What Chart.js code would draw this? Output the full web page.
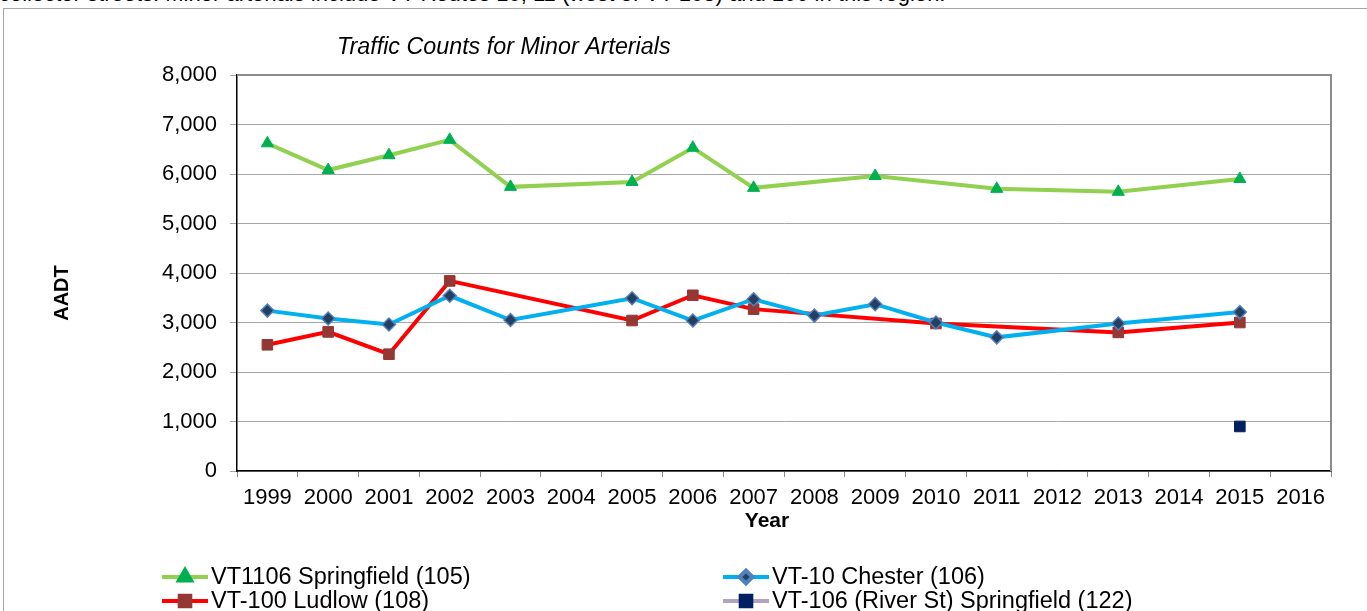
<!DOCTYPE html>
<html><head><meta charset="utf-8">
<script src="https://cdn.jsdelivr.net/npm/chart.js@4"></script>
<style>
html,body{margin:0;padding:0;background:#fff;overflow:hidden;width:1367px;height:611px;}
#doc{position:absolute;left:-1px;top:-18px;font:22px "Liberation Sans",Arial,sans-serif;line-height:24px;white-space:nowrap;color:#000;}
#frame{position:absolute;left:3px;top:8px;right:-10px;bottom:-10px;border-left:1px solid #a6a6a6;border-top:1px solid #a6a6a6;background:#fff;}
canvas{position:absolute;left:0;top:0;}
</style></head><body>
<div id="doc">collector streets. Minor arterials include VT Routes 10, 11 (west of VT 103) and 106 in this region.</div>
<div id="frame"></div>
<canvas id="c" width="1367" height="611"></canvas>
<script>
const years = ['1999','2000','2001','2002','2003','2004','2005','2006','2007','2008','2009','2010','2011','2012','2013','2014','2015','2016'];
const springfield105 = [6620,6080,6380,6690,5740,null,5840,6530,5720,null,5960,null,5700,null,5640,null,5900,null];
const chester106     = [3240,3080,2960,3540,3050,null,3490,3040,3470,3140,3370,3000,2700,null,2980,null,3210,null];
const ludlow108      = [2550,2810,2360,3840,null,null,3040,3550,3270,null,null,2980,null,null,2800,null,3000,null];
const riverSt122     = [null,null,null,null,null,null,null,null,null,null,null,null,null,null,null,null,900,null];
const yTicks = [0,1000,2000,3000,4000,5000,6000,7000,8000];
const seriesNames = ['VT1106 Springfield (105)','VT-10 Chester (106)','VT-100 Ludlow (108)','VT-106 (River St) Springfield (122)'];

const FONT = '"Liberation Sans", Arial, sans-serif';

const extras = {
  id: 'extras',
  beforeDatasetsDraw(chart) {
    const {ctx, chartArea: a} = chart;
    ctx.save();
    ctx.strokeStyle = '#8c8c8c';
    ctx.lineWidth = 2;
    ctx.beginPath();
    ctx.moveTo(a.left, a.top);
    ctx.lineTo(a.right, a.top);
    ctx.lineTo(a.right, a.bottom);
    ctx.stroke();
    ctx.restore();
  },
  afterDraw(chart) {
    const {ctx, chartArea: a} = chart;
    ctx.save();
    ctx.fillStyle = '#000';
    // chart title
    ctx.font = 'italic 23.3px ' + FONT;
    ctx.textAlign = 'left';
    ctx.textBaseline = 'alphabetic';
    ctx.fillText('Traffic Counts for Minor Arterials', a.left + 100, 54);
    // axis titles
    ctx.font = 'bold 21px ' + FONT;
    ctx.textAlign = 'center';
    ctx.textBaseline = 'middle';
    ctx.fillText('Year', (a.left + a.right) / 2 - 17, 521);
    ctx.save();
    ctx.translate(62, (a.top + a.bottom) / 2 + 20);
    ctx.rotate(-Math.PI / 2);
    ctx.font = 'bold 20px ' + FONT;
    ctx.fillText('AADT', 0, 0);
    ctx.restore();
    // legend: two columns
    const cols = [162, 723];
    const rows = [577, 601];
    ctx.font = '23.5px ' + FONT;
    ctx.textAlign = 'left';
    ctx.textBaseline = 'middle';
    chart.data.datasets.forEach((ds, i) => {
      const x = cols[i % 2], y = rows[Math.floor(i / 2)];
      ctx.strokeStyle = ds.borderColor;
      ctx.lineWidth = 4;
      ctx.beginPath();
      ctx.moveTo(x, y); ctx.lineTo(x + 46, y);
      ctx.stroke();
      ctx.fillStyle = ds.pointBackgroundColor;
      ctx.strokeStyle = ds.pointBorderColor;
      Chart.helpers.drawPoint(ctx, {pointStyle: ds.pointStyle, rotation: 0, radius: ds.pointRadius, borderWidth: ds.pointBorderWidth}, x + 23, y);
      ctx.fillStyle = '#000';
      ctx.fillText(ds.label, x + 49, y + 1);
    });
    ctx.restore();
  }
};

new Chart(document.getElementById('c'), {
  type: 'line',
  data: {
    labels: years,
    datasets: [
      {label: seriesNames[0], data: springfield105, borderColor: '#92D050', borderWidth: 4, spanGaps: true,
       pointStyle: 'triangle', pointRadius: 7, pointBackgroundColor: '#00B050', pointBorderColor: '#00B050', pointBorderWidth: 1},
      {label: seriesNames[1], data: chester106, borderColor: '#00B0F0', borderWidth: 4, spanGaps: true,
       pointStyle: 'rectRot', pointRadius: 6.5, pointBackgroundColor: '#243F60', pointBorderColor: '#4F81BD', pointBorderWidth: 1.5},
      {label: seriesNames[2], data: ludlow108, borderColor: '#FF0000', borderWidth: 4, spanGaps: true,
       pointStyle: 'rect', pointRadius: 7.5, pointBackgroundColor: '#953735', pointBorderColor: '#953735', pointBorderWidth: 1},
      {label: seriesNames[3], data: riverSt122, borderColor: '#B3A2C7', borderWidth: 4, spanGaps: true,
       pointStyle: 'rect', pointRadius: 7.5, pointBackgroundColor: '#002060', pointBorderColor: '#002060', pointBorderWidth: 1}
    ]
  },
  options: {
    responsive: false,
    animation: false,
    devicePixelRatio: 1,
    layout: {padding: {top: 75, right: 36, bottom: 70, left: 0}},
    plugins: {legend: {display: false}, title: {display: false}, tooltip: {enabled: false}},
    elements: {line: {tension: 0}},
    scales: {
      x: {
        offset: true,
        grid: {offset: true, drawOnChartArea: false, tickLength: 6, color: '#888'},
        border: {color: '#000', width: 1.5},
        ticks: {color: '#000', font: {family: FONT, size: 22}, maxRotation: 0, autoSkip: false, padding: 8},
        afterFit(s) { s.height = 70; }
      },
      y: {
        min: 0, max: 8000,
        afterBuildTicks(s) { s.ticks = yTicks.map(v => ({value: v})); },
        grid: {color: '#A6A6A6', lineWidth: 1, tickLength: 7},
        border: {color: '#000', width: 1.5},
        ticks: {color: '#000', font: {family: FONT, size: 22}, padding: 13, callback: v => v.toLocaleString('en-US')},
        afterFit(s) { s.width = 237; }
      }
    }
  },
  plugins: [extras]
});
</script>
</body></html>
